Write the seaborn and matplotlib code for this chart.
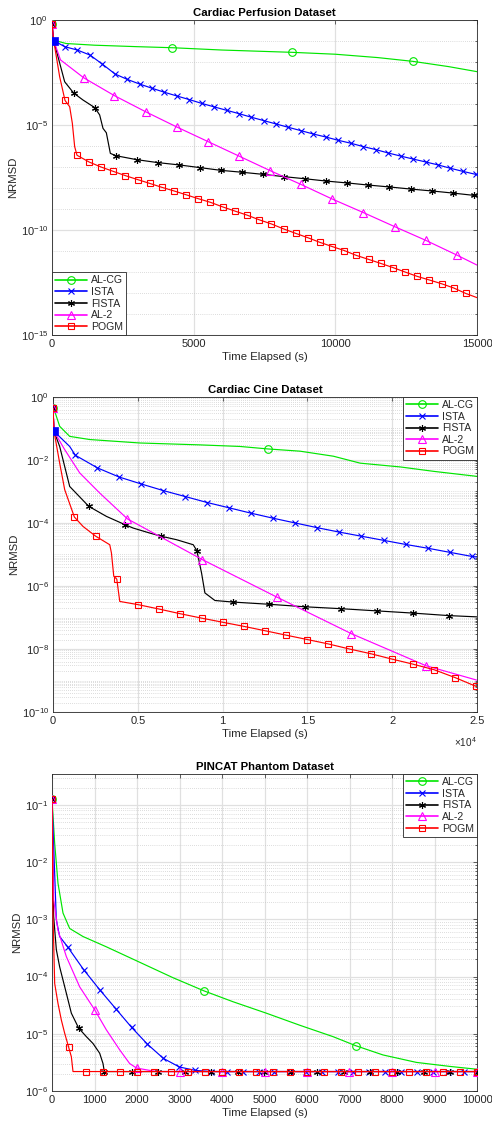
import numpy as np
import pandas as pd
import matplotlib
matplotlib.use("Agg")
import matplotlib.pyplot as plt
import seaborn as sns
from matplotlib.lines import Line2D
from matplotlib.ticker import FixedLocator, LogLocator, NullFormatter, FuncFormatter

# ---------------- DATA (log10 NRMSD vs time in seconds) ----------------
methods = ["AL-CG", "ISTA", "FISTA", "AL-2", "POGM"]
titles = ["Cardiac Perfusion Dataset", "Cardiac Cine Dataset", "PINCAT Phantom Dataset"]

# ---- Panel 1: Cardiac Perfusion ----
pf_alcg_t = [0, 30, 500, 1500, 3000, 6000, 10000, 11500, 14000, 15000]
pf_alcg_y = [-0.19, -0.95, -1.12, -1.20, -1.27, -1.43, -1.63, -1.79, -2.22, -2.46]
pf_alcg_mt = [0, 4247, 8482, 12741]
pf_alcg_my = [-0.19, -1.32, -1.54, -1.97]

pf_ista_t = [0, 60, 15000]
pf_ista_y = [-0.19, -0.98, -7.37]
pf_ista_mt = [0, 447, 894, 1341, 1776, 2224, 2659, 3094, 3529, 3965, 4412, 4847, 5282, 5729,
              6165, 6600, 7035, 7471, 7906, 8341, 8788, 9224, 9659, 10106, 10553, 10988,
              11424, 11859, 12306, 12741, 13188, 13624, 14059, 14506, 14953]
pf_ista_my = [-0.19, -1.27, -1.43, -1.67, -2.10, -2.57, -2.83, -3.05, -3.25, -3.44, -3.62, -3.79,
              -3.97, -4.14, -4.30, -4.46, -4.63, -4.79, -4.95, -5.11, -5.27, -5.43, -5.57, -5.73,
              -5.87, -6.03, -6.17, -6.33, -6.48, -6.62, -6.76, -6.90, -7.06, -7.21, -7.35]

pf_fista_t = [0, 60, 447, 1094, 1682, 1800, 1918, 2059, 15000]
pf_fista_y = [-0.19, -0.98, -2.94, -3.81, -4.52, -5.16, -5.37, -6.35, -8.37]
pf_fista_mt = [0, 765, 1506, 2247, 2988, 3729, 4482, 5224, 5965, 6706, 7447, 8188, 8929, 9682,
               10424, 11165, 11906, 12659, 13400, 14141, 14882]
pf_fista_my = [-0.19, -3.48, -4.17, -6.46, -6.65, -6.79, -6.90, -7.03, -7.16, -7.25, -7.35, -7.46,
               -7.56, -7.67, -7.76, -7.86, -7.95, -8.05, -8.14, -8.24, -8.35]

pf_al2_t = [0, 60, 300, 15000]
pf_al2_y = [-0.19, -0.98, -1.90, -11.67]
pf_al2_mt = [0, 1118, 2200, 3306, 4412, 5506, 6600, 7694, 8788, 9882, 10988, 12094, 13188, 14282]
pf_al2_my = [-0.19, -2.75, -3.60, -4.37, -5.10, -5.79, -6.48, -7.17, -7.83, -8.52, -9.17, -9.84,
             -10.49, -11.19]

pf_pogm_t = [0, 60, 270, 624, 718, 800, 15000]
pf_pogm_y = [-0.19, -0.98, -2.70, -4.13, -4.92, -6.03, -13.22]
pf_pogm_mt = [0, 459, 882, 1306, 1729, 2165, 2588, 3024, 3447, 3882, 4306, 4729, 5165, 5588, 6024,
              6459, 6882, 7306, 7741, 8176, 8600, 9035, 9459, 9894, 10318, 10741, 11176, 11600,
              12035, 12459, 12894, 13318, 13753, 14176, 14600]
pf_pogm_my = [-0.19, -3.83, -6.44, -6.76, -7.00, -7.21, -7.41, -7.60, -7.78, -7.97, -8.14, -8.32,
              -8.51, -8.68, -8.90, -9.10, -9.29, -9.51, -9.71, -9.95, -10.16, -10.37, -10.59,
              -10.79, -10.98, -11.21, -11.40, -11.59, -11.79, -12.00, -12.21, -12.38, -12.56,
              -12.76, -13.02]
pf_start_square = (60, -0.98)

# ---- Panel 2: Cardiac Cine ----
cc_alcg_t = [0, 98, 394, 984, 2165, 5118, 8661, 11024, 14567, 16535, 18110, 20472, 22441, 25000]
cc_alcg_y = [-0.35, -0.45, -0.93, -1.25, -1.35, -1.46, -1.52, -1.57, -1.72, -1.88, -2.10, -2.22,
             -2.36, -2.52]
cc_alcg_mt = [0, 12697]
cc_alcg_my = [-0.35, -1.65]

cc_ista_t = [0, 60, 984, 25000]
cc_ista_y = [-0.35, -1.09, -1.57, -5.08]
cc_ista_mt = [0, 1319, 2618, 3898, 5197, 6496, 7795, 9094, 10394, 11693, 12992, 14291, 15591,
              16890, 18189, 19488, 20787, 22087, 23386, 24685]
cc_ista_my = [-0.35, -1.85, -2.25, -2.54, -2.76, -2.97, -3.16, -3.35, -3.52, -3.69, -3.85, -4.00,
              -4.15, -4.29, -4.42, -4.55, -4.68, -4.80, -4.93, -5.06]

cc_fista_t = [0, 60, 394, 984, 3150, 4724, 5709, 7283, 8268, 8760, 8957, 9547, 25000]
cc_fista_y = [-0.35, -1.09, -1.57, -2.84, -3.79, -4.16, -4.32, -4.53, -4.69, -5.59, -6.22, -6.46,
              -6.98]
cc_fista_mt = [0, 2106, 4232, 6378, 8484, 10610, 12736, 14862, 16969, 19094, 21220, 23346]
cc_fista_my = [-0.35, -3.47, -4.05, -4.42, -4.88, -6.51, -6.58, -6.66, -6.72, -6.79, -6.86, -6.94]

cc_al2_t = [0, 60, 689, 1575, 2756, 25000]
cc_al2_y = [-0.35, -1.09, -1.67, -2.41, -3.05, -8.99]
cc_al2_mt = [0, 4390, 8799, 13189, 17579, 21988]
cc_al2_my = [-0.35, -3.87, -5.16, -6.35, -7.51, -8.53]

cc_pogm_t = [0, 60, 394, 689, 1772, 3346, 3445, 3583, 3937, 25000]
cc_pogm_y = [-0.35, -1.09, -2.10, -2.94, -4.11, -4.69, -4.95, -5.69, -6.49, -9.20]
cc_pogm_mt = [0, 1260, 2520, 3760, 5000, 6240, 7500, 8760, 10000, 11240, 12500, 13740, 15000,
              16240, 17480, 18740, 19980, 21220, 22480, 23720, 24961]
cc_pogm_my = [-0.35, -3.81, -4.42, -5.78, -6.59, -6.73, -6.88, -7.02, -7.15, -7.28, -7.42, -7.56,
              -7.70, -7.84, -8.00, -8.15, -8.32, -8.48, -8.66, -8.91, -9.19]
cc_start_square = (60, -1.09)

# ---- Panel 3: PINCAT Phantom ----
pc_floor = -5.66
pc_alcg_t = [0, 63, 141, 259, 416, 729, 1278, 2063, 2847, 4259, 5043, 5827, 6612, 7788, 8573,
             9357, 10000]
pc_alcg_y = [-0.90, -1.67, -2.37, -2.89, -3.16, -3.30, -3.48, -3.75, -4.02, -4.44, -4.64, -4.85,
             -5.05, -5.37, -5.50, -5.57, -5.62]
pc_alcg_mt = [0, 3576, 7153]
pc_alcg_my = [-0.90, -4.25, -5.21]

pc_ista_t = [0, 102, 180, 10000]
pc_ista_y = [-0.90, -3.01, -3.30, pc_floor]
pc_ista_mt = [0, 376, 745, 1122, 1498, 1875, 2243, 2620, 2996, 3373, 3741, 4114, 4486, 4859, 5231,
              5604, 5976, 6349, 6722, 7094, 7467, 7839, 8212, 8584, 8957, 9329, 9702]
pc_ista_my = [-0.90, -3.49, -3.88, -4.23, -4.56, -4.89, -5.18, -5.43, -5.58, -5.64, pc_floor,
              pc_floor, pc_floor, pc_floor, pc_floor, pc_floor, pc_floor, pc_floor, pc_floor,
              pc_floor, pc_floor, pc_floor, pc_floor, pc_floor, pc_floor, pc_floor, pc_floor]

pc_fista_t = [0, 39, 102, 180, 337, 455, 808, 965, 1122, 1200, 10000]
pc_fista_y = [-0.90, -2.95, -3.53, -3.83, -4.29, -4.64, -5.05, -5.17, -5.34, -5.52, pc_floor]
pc_fista_mt = [0, 627, 1231, 1875, 2502, 3122, 3749, 4376, 4996, 5616, 6243, 6863, 7490, 8118,
               8745, 9373, 10000]
pc_fista_my = [-0.90, -4.90, pc_floor, pc_floor, pc_floor, pc_floor, pc_floor, pc_floor, pc_floor,
               pc_floor, pc_floor, pc_floor, pc_floor, pc_floor, pc_floor, pc_floor, pc_floor]

pc_al2_t = [0, 39, 141, 337, 651, 1278, 1592, 1827, 2455, 10000]
pc_al2_y = [-0.90, -2.66, -3.19, -3.65, -4.18, -4.93, -5.28, -5.52, pc_floor, pc_floor]
pc_al2_mt = [0, 1004, 1992, 3004, 4000, 5004, 6000, 6996, 8000, 9004, 10000]
pc_al2_my = [-0.90, -4.58, -5.60, pc_floor, pc_floor, pc_floor, pc_floor, pc_floor, pc_floor,
             pc_floor, pc_floor]

pc_pogm_t = [0, 24, 63, 141, 220, 298, 455, 494, 10000]
pc_pogm_y = [-0.90, -2.95, -4.12, -4.47, -4.76, -4.99, -5.40, pc_floor, pc_floor]
pc_pogm_mt = [0, 390, 800, 1200, 1600, 2000, 2400, 2800, 3200, 3600, 4000, 4400, 4800, 5200,
              5600, 6000, 6400, 6800, 7200, 7600, 8000, 8400, 8800, 9200, 9600, 10000]
pc_pogm_my = [-0.90, -5.23, pc_floor, pc_floor, pc_floor, pc_floor, pc_floor, pc_floor, pc_floor,
              pc_floor, pc_floor, pc_floor, pc_floor, pc_floor, pc_floor, pc_floor, pc_floor,
              pc_floor, pc_floor, pc_floor, pc_floor, pc_floor, pc_floor, pc_floor, pc_floor,
              pc_floor]

# ---------------- STYLE ----------------
sns.set_theme(style="white")
plt.rcParams["font.family"] = ["Liberation Sans", "DejaVu Sans"]
plt.rcParams["mathtext.fontset"] = "custom"
plt.rcParams["mathtext.rm"] = "Liberation Sans"
plt.rcParams["mathtext.it"] = "Liberation Sans:italic"
plt.rcParams["mathtext.bf"] = "Liberation Sans:bold"

FS = 8.0
LFS = 7.6
colors = {"AL-CG": "#00e600", "ISTA": "#0000ff", "FISTA": "#000000", "AL-2": "#ff00ff", "POGM": "#ff0000"}
markers = {"AL-CG": "o", "ISTA": "x", "FISTA": (6, 2, 0), "AL-2": "^", "POGM": "s"}
msizes = {"AL-CG": 5.5, "ISTA": 4.0, "FISTA": 5.0, "AL-2": 6.0, "POGM": 4.0}

panels = [
    dict(series={"AL-CG": (pf_alcg_t, pf_alcg_y, pf_alcg_mt, pf_alcg_my),
                 "ISTA": (pf_ista_t, pf_ista_y, pf_ista_mt, pf_ista_my),
                 "FISTA": (pf_fista_t, pf_fista_y, pf_fista_mt, pf_fista_my),
                 "AL-2": (pf_al2_t, pf_al2_y, pf_al2_mt, pf_al2_my),
                 "POGM": (pf_pogm_t, pf_pogm_y, pf_pogm_mt, pf_pogm_my)},
         square=pf_start_square, xlim=(0, 15000), ylim=(1e-15, 1.0),
         xticks=[0, 5000, 10000, 15000], yticks=[1e-15, 1e-10, 1e-5, 1.0],
         minor_subs=(1.0,), legend_loc="lower left",
         rect=[52 / 492, 1 - 335 / 1125, 425 / 492, 315 / 1125]),
    dict(series={"AL-CG": (cc_alcg_t, cc_alcg_y, cc_alcg_mt, cc_alcg_my),
                 "ISTA": (cc_ista_t, cc_ista_y, cc_ista_mt, cc_ista_my),
                 "FISTA": (cc_fista_t, cc_fista_y, cc_fista_mt, cc_fista_my),
                 "AL-2": (cc_al2_t, cc_al2_y, cc_al2_mt, cc_al2_my),
                 "POGM": (cc_pogm_t, cc_pogm_y, cc_pogm_mt, cc_pogm_my)},
         square=cc_start_square, xlim=(0, 25000), ylim=(1e-10, 1.0),
         xticks=[0, 5000, 10000, 15000, 20000, 25000],
         yticks=[1e-10, 1e-8, 1e-6, 1e-4, 1e-2, 1.0],
         minor_subs=tuple(float(s) for s in range(1, 10)), legend_loc="upper right",
         rect=[53 / 492, 1 - 712 / 1125, 424 / 492, 315 / 1125]),
    dict(series={"AL-CG": (pc_alcg_t, pc_alcg_y, pc_alcg_mt, pc_alcg_my),
                 "ISTA": (pc_ista_t, pc_ista_y, pc_ista_mt, pc_ista_my),
                 "FISTA": (pc_fista_t, pc_fista_y, pc_fista_mt, pc_fista_my),
                 "AL-2": (pc_al2_t, pc_al2_y, pc_al2_mt, pc_al2_my),
                 "POGM": (pc_pogm_t, pc_pogm_y, pc_pogm_mt, pc_pogm_my)},
         square=None, xlim=(0, 10000), ylim=(1e-6, 10 ** -0.46),
         xticks=list(range(0, 10001, 1000)),
         yticks=[1e-6, 1e-5, 1e-4, 1e-3, 1e-2, 1e-1],
         minor_subs=tuple(float(s) for s in range(1, 10)), legend_loc="upper right",
         rect=[52 / 492, 1 - 1091 / 1125, 425 / 492, 317 / 1125]),
]

fig = plt.figure(figsize=(4.92, 11.25), dpi=100)
fig.patch.set_facecolor("white")


def log_label(v, pos):
    e = int(round(np.log10(v)))
    return r"$\mathdefault{10^{%d}}$" % e


for pi, p in enumerate(panels):
    ax = fig.add_axes(p["rect"])
    ax.set_yscale("log")
    ax.set_facecolor("white")
    for name in methods:
        lt, ly, mt, my = p["series"][name]
        df = pd.DataFrame({"t": list(lt) + list(mt),
                           "ly": list(ly) + list(my),
                           "m": [False] * len(lt) + [True] * len(mt)})
        df = df.sort_values(["t", "m"], ascending=[True, False]).drop_duplicates("t", keep="first")
        df = df.reset_index(drop=True)
        df["v"] = 10.0 ** df["ly"]
        idx = [int(i) for i in np.flatnonzero(df["m"].to_numpy())]
        c = colors[name]
        sns.lineplot(data=df, x="t", y="v", ax=ax, estimator=None, sort=False,
                     color=c, linewidth=0.85, marker=markers[name], markevery=idx,
                     markersize=msizes[name], markerfacecolor="none",
                     markeredgecolor=c, markeredgewidth=0.8, legend=False, zorder=3)
    if p["square"] is not None:
        st, sy = p["square"]
        sns.scatterplot(x=[st], y=[10.0 ** sy], ax=ax, marker="s", s=40, color="#0000ff",
                        edgecolor="#0000ff", linewidth=0.5, zorder=5, legend=False)

    ax.set_xlim(*p["xlim"])
    ax.set_ylim(*p["ylim"])
    ax.xaxis.set_major_locator(FixedLocator(p["xticks"]))
    ax.yaxis.set_major_locator(FixedLocator(p["yticks"]))
    ax.yaxis.set_minor_locator(LogLocator(base=10, subs=p["minor_subs"], numticks=40))
    ax.yaxis.set_minor_formatter(NullFormatter())
    ax.yaxis.set_major_formatter(FuncFormatter(log_label))
    if pi == 1:
        ax.xaxis.set_major_formatter(FuncFormatter(lambda v, pos: "%g" % (v / 1e4)))
        ax.text(1.0, -0.097, r"$\times\mathdefault{10^{4}}$", transform=ax.transAxes,
                ha="right", va="center", fontsize=FS - 0.8, color="#262626")
    else:
        ax.xaxis.set_major_formatter(FuncFormatter(lambda v, pos: "%d" % v))

    ax.set_axisbelow(True)
    ax.grid(which="major", axis="both", color="#e0e0e0", linewidth=0.9, linestyle="-")
    ax.grid(which="minor", axis="y", color="#bdbdbd", linewidth=0.5, linestyle=(0, (1, 2)))
    ax.tick_params(which="both", direction="in", top=True, right=True, labelsize=FS,
                   colors="#262626", width=0.5)
    ax.tick_params(which="major", length=3, pad=3)
    ax.tick_params(which="minor", length=1.5)
    for sp in ax.spines.values():
        sp.set_color("#262626")
        sp.set_linewidth(0.6)
        sp.set_visible(True)

    ax.set_title(titles[pi], fontsize=FS + 0.2, fontweight="bold", pad=3, color="black")
    ax.set_xlabel("Time Elapsed (s)", fontsize=FS + 0.2, labelpad=2, color="#262626")
    ax.set_ylabel("NRMSD", fontsize=FS + 0.2, labelpad=2, color="#262626")

    handles = [Line2D([], [], color=colors[n], linewidth=1.2, marker=markers[n],
                      markersize=msizes[n], markerfacecolor="none", markeredgecolor=colors[n],
                      markeredgewidth=0.8) for n in methods]
    leg = ax.legend(handles, methods, loc=p["legend_loc"], fontsize=LFS, frameon=True,
                    fancybox=False, edgecolor="#262626", framealpha=1.0, borderaxespad=0.0,
                    handlelength=3.0, handletextpad=0.4, labelspacing=0.15, borderpad=0.3)
    leg.get_frame().set_linewidth(0.6)
    leg.set_zorder(10)

fig.savefig("out.png", dpi=100, facecolor="white")
